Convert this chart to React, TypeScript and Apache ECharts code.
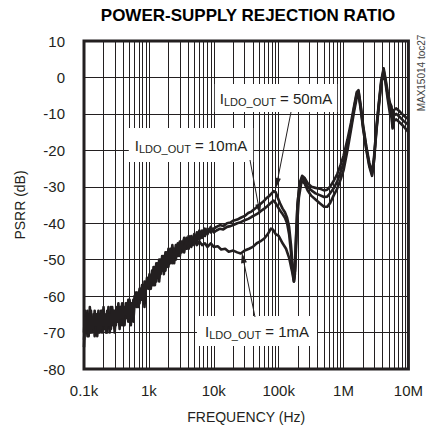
import React, { useEffect, useRef } from "react";
import * as echarts from "echarts";

const FONT = "'Liberation Sans Narrow', 'Arial Narrow', 'Liberation Sans', sans-serif";
const INK = "#231f20";

const xTickLabels: Record<number, string> = {
  100: "0.1k",
  1000: "1k",
  10000: "10k",
  100000: "100k",
  1000000: "1M",
  10000000: "10M",
};

const yMin = -80;
const yMax = 10;
const yStep = 10;

const decades = [100, 1000, 10000, 100000, 1000000];
const minorMultipliers = [2, 3, 4, 5, 6, 7, 8, 9];

// frequency grid shared by the low-frequency, noisy part of the curves
const lowFreqs = [100,104,108,113,118,123,128,134,140,146,153,160,167,175,183,191,200,209,218,228,238,249,260,272,284,297,310,324,339,354,370,387,404,422,441,461,482,504,527,551,576,602,629,657,687,718,750,784,819,856,895,935,977,1020];
const low50mA = [-74,-66,-70,-64,-69,-65,-70,-66,-69,-64,-68,-65,-70,-65,-69,-64,-68,-65,-70,-64,-68,-65,-69,-63,-67,-64,-68,-63,-67,-64,-66,-62,-66,-63,-65,-62,-66,-63,-68,-62,-64,-60,-62,-59,-61,-58,-60,-57,-62,-56,-58,-55,-57,-55];
const low10mA = [-72,-68,-65,-71,-66,-70,-64,-69,-66,-71,-65,-69,-64,-70,-66,-68,-63,-69,-66,-70,-65,-68,-63,-68,-65,-69,-64,-67,-62,-68,-63,-67,-64,-68,-62,-66,-61,-65,-62,-66,-61,-63,-59,-63,-60,-62,-58,-61,-57,-63,-57,-56,-58,-54];
const low1mA = [-70,-64,-69,-66,-71,-63,-67,-70,-65,-68,-66,-71,-66,-68,-64,-70,-65,-67,-66,-69,-63,-70,-66,-67,-64,-70,-65,-66,-64,-69,-63,-68,-65,-64,-66,-63,-67,-61,-65,-63,-67,-62,-61,-60,-63,-59,-61,-59,-58,-60,-58,-57,-56,-56];

const midFreqs = [1070,1120,1180,1240,1300,1370,1440,1520,1600,1700,1800,1900,2000,2150,2300,2450,2600,2800,3000,3200,3500,3800,4100,4500,5000,5500,6000,6600,7300,8000,9000,10000];
const mid50mA = [-56,-53,-57,-52,-56,-51,-55,-50,-53,-49,-53,-48,-52,-47,-51,-47,-50,-46,-49,-45,-48,-44,-47,-43.5,-46,-42.5,-44.5,-42,-43.5,-41.5,-42.5,-41.5];
const mid10mA = [-55,-57,-52,-56,-51,-55,-50,-54,-49,-53,-48,-52,-47,-51,-46,-50,-46,-49,-45,-48,-44,-47,-43.5,-46,-43,-45,-42,-44,-41.5,-43,-41,-42.5];
const mid1mA = [-58,-54,-53,-57,-52,-54,-56,-51,-50,-54,-49,-51,-48,-50,-47,-51,-47,-45.5,-48,-46,-44.5,-47,-44.5,-46.5,-44,-46,-45,-46,-45.5,-46.5,-45.5,-46.5];

const highFreqs = [11000,12500,14000,16000,18000,20000,23000,26000,30000,34000,38000,43000,48000,54000,60000,66000,72000,78000,84000,90000,97000,105000,115000,125000,135000,145000,155000,165000,172000,178000,185000,195000,210000,230000,250000,280000,320000,370000,430000,500000,560000,620000,700000,800000,900000,1000000,1150000,1300000,1450000,1600000,1700000,1850000,2000000,2250000,2500000,2750000,2950000,3200000,3500000,3800000,4150000,4400000,4800000,5200000,5500000,5700000,5900000,6500000,7500000,8500000,10000000];
const high50mA = [-41,-40.5,-40.8,-40,-39.8,-39.3,-39,-38.5,-38,-37.2,-36.8,-36,-35.3,-34.5,-33.8,-33,-32.5,-31.8,-31.2,-31.5,-33,-34.5,-36,-37,-38.5,-41,-46,-52,-55.5,-54,-45,-35,-29,-27,-27.5,-29,-30,-30.3,-30.5,-31,-30.8,-30,-28.5,-26.5,-24,-21.5,-17,-12.5,-8,-4,-3.5,-8,-13,-19,-23.5,-26,-22,-14,-7,-1,2.5,0,-4,-7,-8,-12.5,-9,-8.5,-9.5,-10.5,-11.5];
const high10mA = [-42,-41.5,-41.7,-41,-40.8,-40.5,-40,-39.7,-39.2,-38.8,-38.3,-37.8,-37.3,-36.6,-36,-35.4,-34.8,-34.2,-33.8,-34.5,-35.5,-36.5,-37.5,-38.5,-40,-43,-48,-53,-56,-53,-44,-35,-29.5,-27.5,-28.5,-30,-31,-31.8,-32.3,-32.8,-32.7,-31.8,-30.5,-28.5,-26,-23.5,-18.5,-13.5,-8.5,-4.5,-3.8,-8.5,-13.5,-19.5,-24,-26.5,-22.5,-14.5,-7.5,-1.5,2,-0.5,-5,-8.5,-9.5,-13.5,-10.5,-10,-11,-12,-13];

const high1mAFreqs = [11500,13000,15000,17000,20000,23000,26000,30000,35000,40000,46000,52000,60000,68000,76000,82000,90000,100000,115000,130000,145000,160000,172000,180000,190000,205000,225000,250000,280000,320000,370000,430000,500000,560000,620000,700000,800000,900000,1000000,1150000,1300000,1450000,1600000,1700000,1850000,2000000,2250000,2500000,2750000,2950000,3200000,3500000,3800000,4150000,4400000,4800000,5200000,5500000,5700000,5900000,6500000,7500000,8500000,10000000];
const high1mA = [-46.3,-47.2,-47,-47.8,-47.5,-48,-48.3,-47.5,-47,-46.5,-45.5,-45,-44.2,-43,-41.5,-41.8,-43,-43.5,-45.5,-47,-49.5,-53,-56,-52,-42,-33,-28.5,-29,-31,-32.5,-33.5,-34.5,-35.5,-35.5,-34.5,-32.5,-30.5,-28,-25.5,-20,-14.5,-9.5,-5.5,-4.5,-9,-14,-20,-24.5,-27,-23,-15,-8,-2,1.5,-1,-6,-10,-11,-14,-12,-11.5,-12.5,-13.5,-15];

function zipPts(fs: number[], vs: number[]): [number, number][] {
  return fs.map((f, i) => [f, vs[i]]);
}

const series50mA = [...zipPts(lowFreqs, low50mA), ...zipPts(midFreqs, mid50mA), ...zipPts(highFreqs, high50mA)];
const series10mA = [...zipPts(lowFreqs, low10mA), ...zipPts(midFreqs, mid10mA), ...zipPts(highFreqs, high10mA)];
const series1mA = [...zipPts(lowFreqs, low1mA), ...zipPts(midFreqs, mid1mA), ...zipPts(high1mAFreqs, high1mA)];

const minorGridFreqs: number[] = [];
decades.forEach((d) => minorMultipliers.forEach((m) => minorGridFreqs.push(d * m)));

const labelText = (v: string) => `{i|I}{s|LDO_OUT}{t| = ${v}}`;
const richStyle = {
  i: { fontSize: 15, fontFamily: FONT, fill: INK },
  s: { fontSize: 11, fontFamily: FONT, fill: INK, padding: [7, 0, 0, 0] },
  t: { fontSize: 15, fontFamily: FONT, fill: INK },
};

function labelBox(cx: number, cy: number, v: string, padH: number, padV: number) {
  return {
    type: "text",
    x: cx,
    y: cy,
    z: 100,
    style: {
      text: labelText(v),
      rich: richStyle,
      align: "center",
      verticalAlign: "middle",
      backgroundColor: "#fff",
      padding: [padV, padH],
    },
  };
}

function arrow(x1: number, y1: number, x2: number, y2: number) {
  const dx = x2 - x1;
  const dy = y2 - y1;
  const len = Math.sqrt(dx * dx + dy * dy);
  const ux = dx / len;
  const uy = dy / len;
  const bx = x2 - ux * 10;
  const by = y2 - uy * 10;
  const nx = -uy * 3;
  const ny = ux * 3;
  return [
    {
      type: "line",
      z: 101,
      shape: { x1, y1, x2: bx, y2: by },
      style: { stroke: INK, lineWidth: 1 },
    },
    {
      type: "polygon",
      z: 101,
      shape: { points: [[x2, y2], [bx + nx, by + ny], [bx - nx, by - ny]] },
      style: { fill: INK },
    },
  ];
}

export default function App() {
  const ref = useRef<HTMLDivElement>(null);
  useEffect(() => {
    if (!ref.current) return;
    const chart = echarts.init(ref.current, undefined, { renderer: "svg" });
    const lineCommon = {
      type: "line",
      showSymbol: false,
      symbol: "none",
      z: 5,
      lineStyle: { color: INK, width: 2.6, join: "round" },
      itemStyle: { color: INK },
    };
    chart.setOption({
      animation: false,
      backgroundColor: "#fff",
      grid: {
        left: 84,
        top: 41,
        width: 329,
        height: 328,
        show: true,
        borderColor: INK,
        borderWidth: 3,
        backgroundColor: "transparent",
      },
      xAxis: {
        type: "log",
        logBase: 10,
        min: 100,
        max: 10000000,
        name: "FREQUENCY (Hz)",
        nameLocation: "middle",
        nameGap: 41,
        nameTextStyle: { fontFamily: FONT, fontSize: 14, color: INK },
        axisLine: { show: false },
        axisTick: { show: false },
        axisLabel: {
          fontFamily: FONT,
          fontSize: 15,
          color: INK,
          margin: 14,
          formatter: (v: number) => xTickLabels[Math.round(v)] ?? "",
        },
        splitLine: { show: true, lineStyle: { color: INK, width: 1 } },
      },
      yAxis: {
        type: "value",
        min: yMin,
        max: yMax,
        interval: yStep,
        name: "PSRR (dB)",
        nameLocation: "middle",
        nameGap: 57,
        nameRotate: 90,
        nameTextStyle: { fontFamily: FONT, fontSize: 14, color: INK },
        axisLine: { show: false },
        axisTick: { show: false },
        axisLabel: { fontFamily: FONT, fontSize: 15, color: INK, margin: 19 },
        splitLine: { show: true, lineStyle: { color: INK, width: 1.2 } },
      },
      series: [
        {
          type: "line",
          data: [],
          z: 1,
          silent: true,
          markLine: {
            silent: true,
            symbol: ["none", "none"],
            label: { show: false },
            lineStyle: { color: INK, width: 1, type: "solid" },
            emphasis: { disabled: true },
            data: minorGridFreqs.map((f) => ({ xAxis: f })),
          },
        },
        { ...lineCommon, name: "1mA", data: series1mA },
        { ...lineCommon, name: "10mA", data: series10mA },
        { ...lineCommon, name: "50mA", data: series50mA },
      ],
      graphic: [
        {
          type: "text",
          x: 248,
          y: 15,
          style: {
            text: "POWER-SUPPLY REJECTION RATIO",
            fontFamily: FONT,
            fontSize: 17,
            fontWeight: 900,
            fill: "#000",
            align: "center",
            verticalAlign: "middle",
          },
        },
        {
          type: "text",
          x: 421,
          y: 73,
          rotation: Math.PI / 2,
          style: {
            text: "MAX15014 toc27",
            fontFamily: FONT,
            fontSize: 10,
            fill: "#444",
            align: "center",
            verticalAlign: "middle",
          },
        },
        labelBox(276, 98, "50mA", 5, 5),
        labelBox(191, 145, "10mA", 6, 8),
        labelBox(257, 331, "1mA", 8, 6),
        ...arrow(291, 112, 276, 188),
        ...arrow(250, 160, 260, 214),
        ...arrow(255, 317, 242, 253),
      ],
    });
    return () => chart.dispose();
  }, []);
  return (
    <div
      ref={ref}
      style={{ position: "fixed", left: 0, top: 0, width: 426, height: 433, background: "#fff" }}
    />
  );
}
